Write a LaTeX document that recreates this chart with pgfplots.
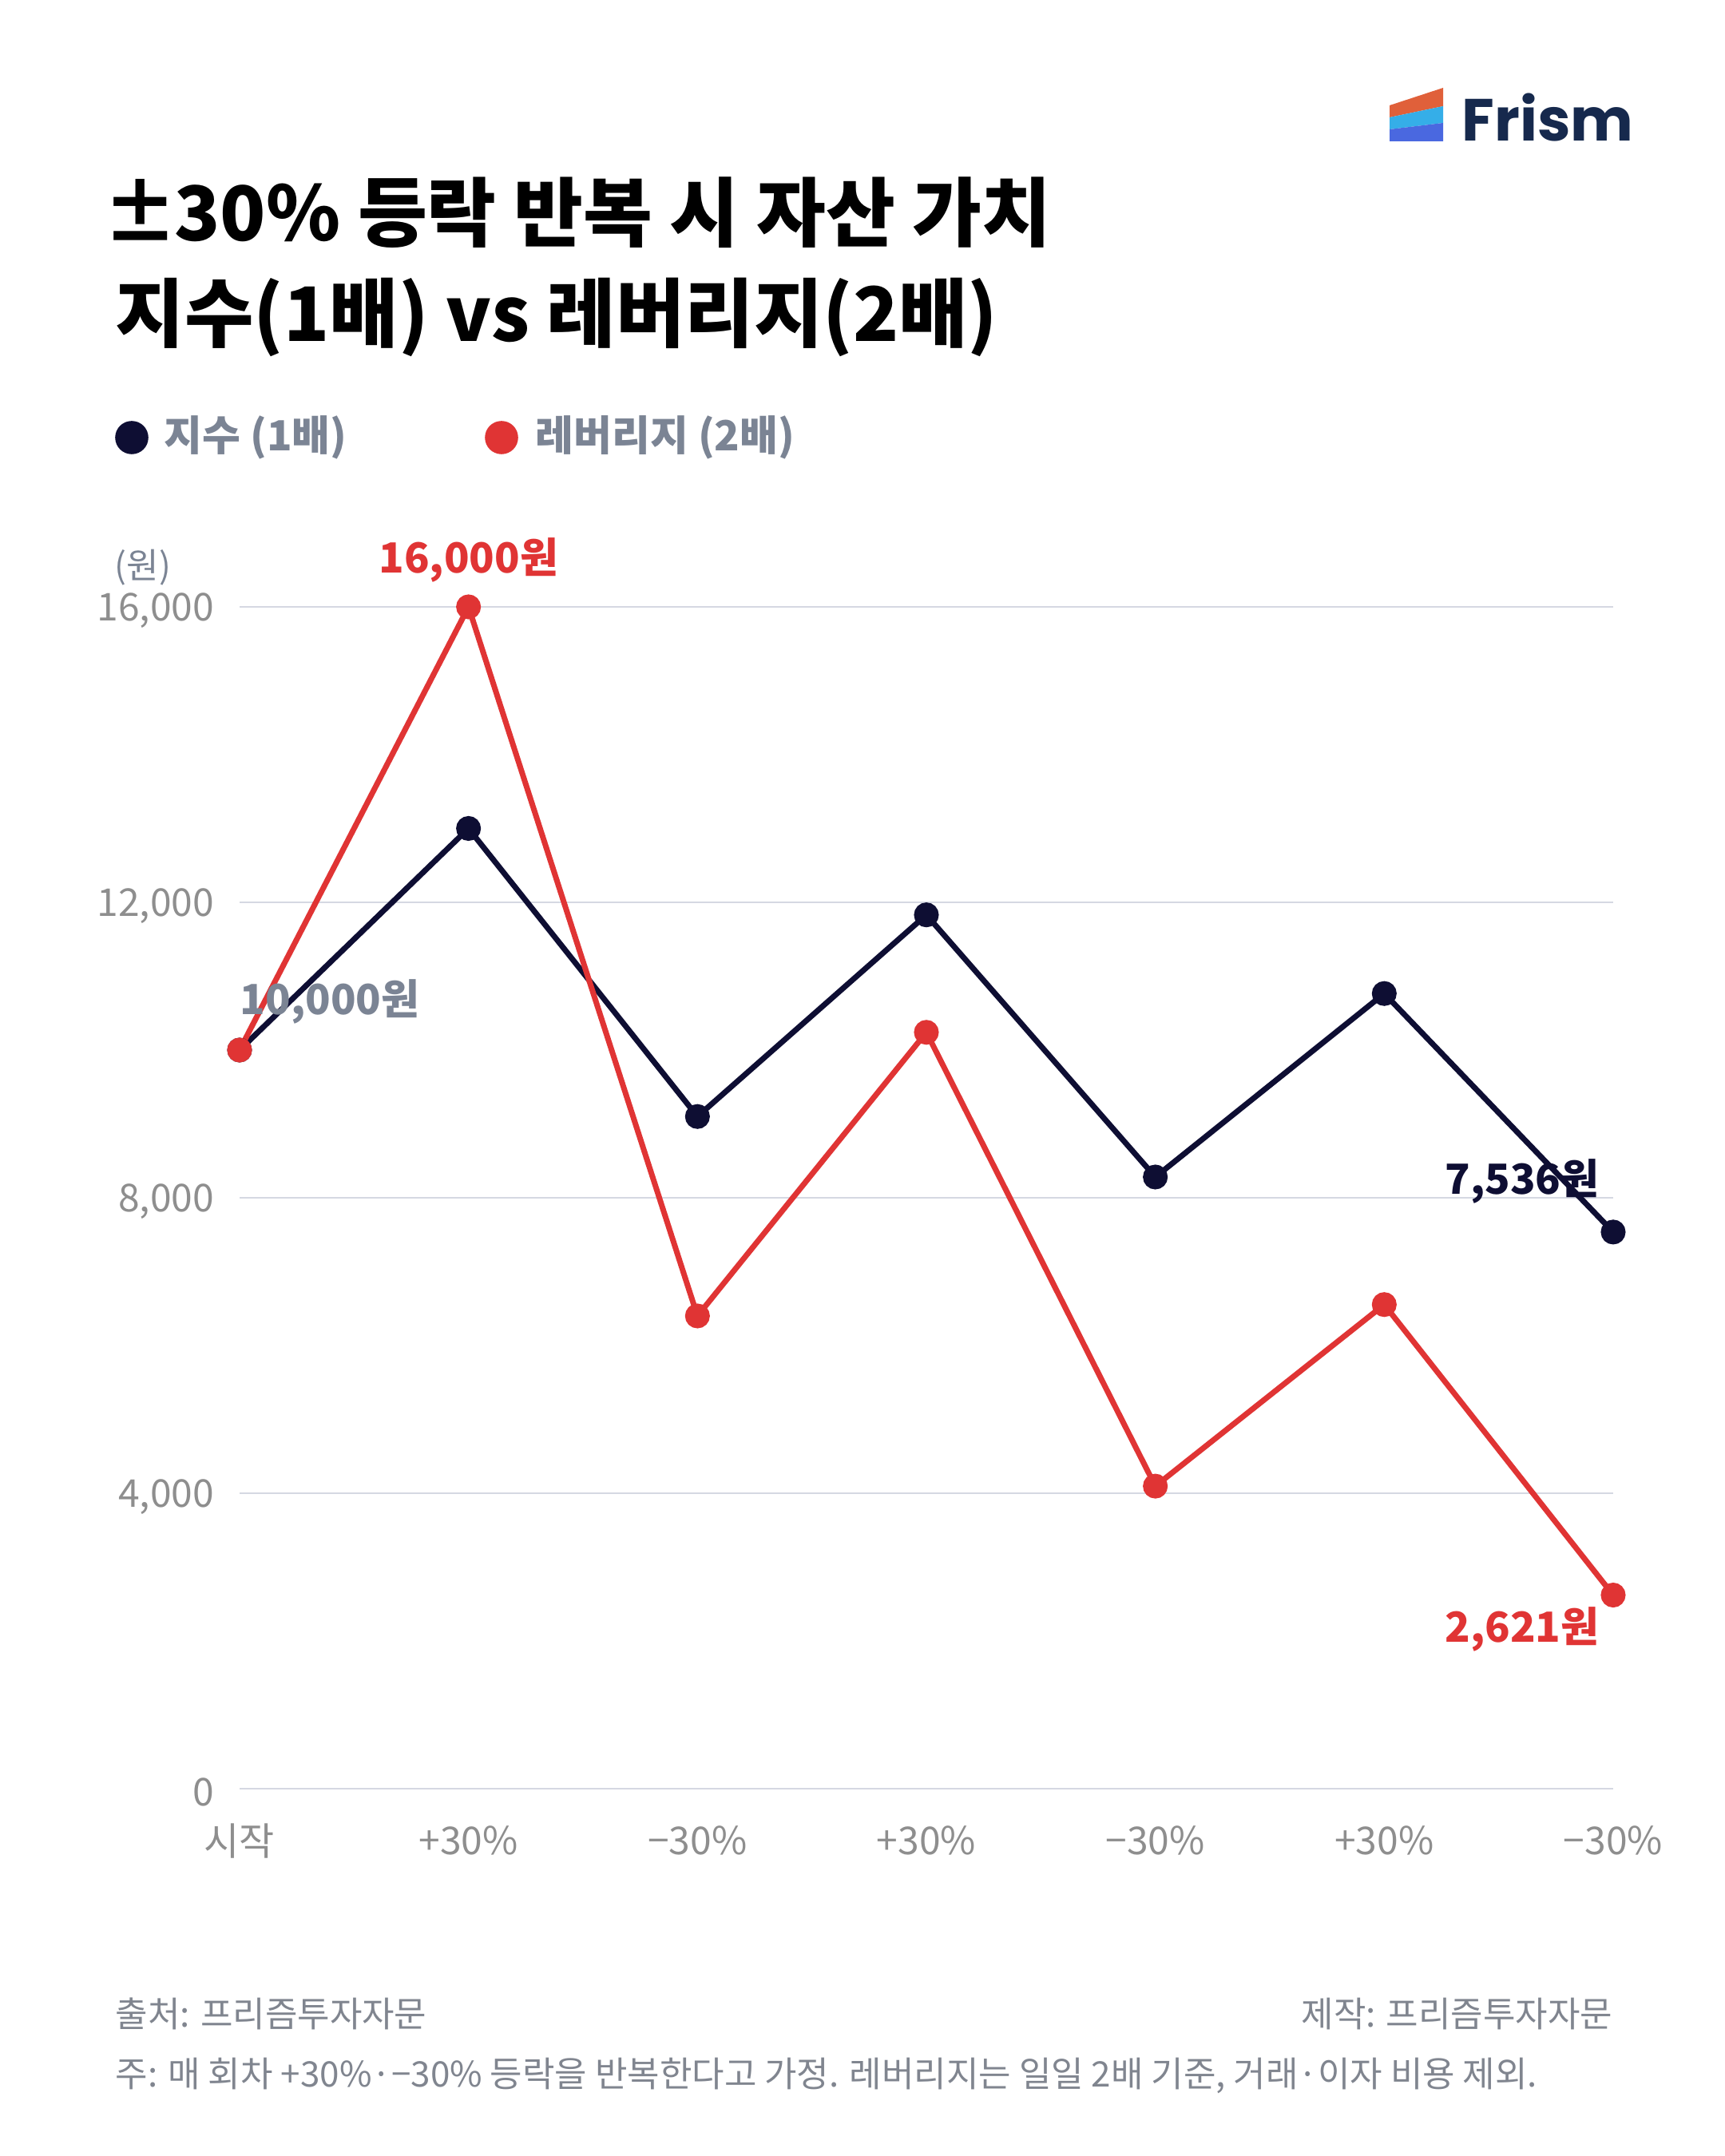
\documentclass[border=0pt]{standalone}
\usepackage{fontspec}
\setmainfont{Noto Sans CJK KR}
\newfontfamily\logofont{Poppins}
\usepackage{pgfplots}
\pgfplotsset{compat=1.18}
\definecolor{navy}{HTML}{0E0E33}
\definecolor{lred}{HTML}{E03434}
\definecolor{leggray}{HTML}{7B8494}
\definecolor{tickgray}{HTML}{8E8E8E}
\definecolor{gridc}{HTML}{D5D8E2}
\definecolor{footgray}{HTML}{80858F}
\definecolor{logonavy}{HTML}{16294D}
\definecolor{logoorange}{HTML}{E0603A}
\definecolor{logolblue}{HTML}{35AEE8}
\definecolor{logoblue}{HTML}{4A68E0}
\begin{document}
\begin{tikzpicture}[x=1pt,y=1pt]
\useasboundingbox[fill=white] (0,0) rectangle (540,675);
% logo
\fill[logoorange] (435,642) -- (451.75,647.5) -- (451.75,641.75) -- (435,638.25) -- cycle;
\fill[logolblue] (435,638.25) -- (451.75,641.75) -- (451.75,636.5) -- (435,634.5) -- cycle;
\fill[logoblue] (435,634.5) -- (451.75,636.5) -- (451.75,630.75) -- (435,630.75) -- cycle;
\node[anchor=base west, inner sep=0pt, text=logonavy, font=\logofont\fontsize{18.6}{22}\selectfont\bfseries] at (457.5,630.75) {Frism};
% title
\node[anchor=base west, inner sep=0pt, font=\fontsize{23.6}{28}\selectfont\bfseries] at (36,599.5) {\hspace*{-0.17em}±\hspace{-0.05em}30\% 등락 반복 시 자산 가치};
\node[anchor=base west, inner sep=0pt, font=\fontsize{23.5}{28}\selectfont\bfseries] at (36,568) {지수(1배) vs 레버리지(2배)};
% legend
\fill[navy] (41.25,538) circle (5.2);
\node[anchor=west, inner sep=0pt, text=leggray, font=\fontsize{13}{15}\selectfont\bfseries] at (51.25,538) {지수 (1배)};
\fill[lred] (157,538) circle (5.2);
\node[anchor=west, inner sep=0pt, text=leggray, font=\fontsize{13}{15}\selectfont\bfseries] at (167.5,538) {레버리지 (2배)};
% unit
\node[inner sep=0pt, text=leggray, font=\fontsize{11}{13}\selectfont] at (44.75,497.25) {(원)};
\begin{axis}[
  at={(75pt,115pt)}, anchor=south west,
  scale only axis, width=430pt, height=370pt,
  xmin=0, xmax=6, ymin=0, ymax=16000,
  clip=false,
  axis line style={draw=none},
  major tick length=0pt,
  xtick={0,1,2,3,4,5,6},
  xticklabels={시작,+30\%,−30\%,+30\%,−30\%,+30\%,−30\%},
  ytick={0,4000,8000,12000,16000},
  ymajorgrids, grid style={gridc, line width=0.6pt},
  /pgf/number format/assume math mode=true,
  /pgf/number format/1000 sep={,},
  scaled y ticks=false,
  yticklabel style={anchor=east, inner sep=0pt, xshift=-7.75pt, yshift=-1.2pt, text=tickgray, font=\fontsize{12}{14}\selectfont},
  xticklabel style={anchor=center, inner sep=0pt, yshift=-16.3pt, text=tickgray, font=\fontsize{12}{14}\selectfont},
]
\addplot[navy, line width=1.75pt, mark=*, mark size=3pt, mark options={fill=navy, draw=navy}] coordinates {
 (0,10000) (1,13000) (2,9100) (3,11830) (4,8281) (5,10765) (6,7536)};
\addplot[lred, line width=1.75pt, mark=*, mark size=3pt, mark options={fill=lred, draw=lred}] coordinates {
 (0,10000) (1,16000) (2,6400) (3,10240) (4,4096) (5,6554) (6,2621)};
\node[text=lred, font=\fontsize{13}{15}\selectfont\bfseries, inner sep=0pt, yshift=14.75pt] at (axis cs:1,16000) {16,000원};
\node[text=leggray, font=\fontsize{13}{15}\selectfont\bfseries, inner sep=0pt, anchor=west, yshift=15.25pt] at (axis cs:0,10000) {10,000원};
\node[text=navy, font=\fontsize{13}{15}\selectfont\bfseries, inner sep=0pt, anchor=east, xshift=-4.25pt, yshift=15.75pt] at (axis cs:6,7536) {7,536원};
\node[text=lred, font=\fontsize{13}{15}\selectfont\bfseries, inner sep=0pt, anchor=east, xshift=-4.25pt, yshift=-10.75pt] at (axis cs:6,2621) {2,621원};
\end{axis}
% footer
\node[anchor=base west, inner sep=0pt, text=footgray, font=\fontsize{11}{12}\selectfont] at (36,40.25) {출처: 프리즘투자자문};
\node[anchor=base east, inner sep=0pt, text=footgray, font=\fontsize{11}{12}\selectfont] at (505,40.25) {제작: 프리즘투자자문};
\node[anchor=base west, inner sep=0pt, text=footgray, font=\fontsize{11}{12}\selectfont] at (36,21.5) {주: 매 회차 +30\%·−30\% 등락을 반복한다고 가정. 레버리지는 일일 2배 기준, 거래·이자 비용 제외.};
\end{tikzpicture}
\end{document}
